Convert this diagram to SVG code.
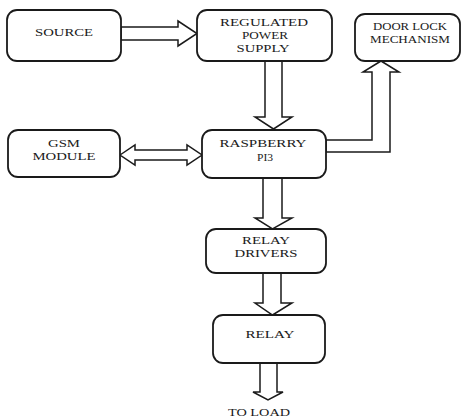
<svg xmlns="http://www.w3.org/2000/svg" width="462" height="418" viewBox="0 0 462 418">
<style>
.box{fill:#fff;stroke:#1a1a1a;stroke-width:1.8}
.arr{fill:#fff;stroke:#1a1a1a;stroke-width:1.5;stroke-linejoin:miter}
text{font-family:"Liberation Serif","Times New Roman",serif;font-size:11px;fill:#1a1a1a;text-anchor:middle}
</style>
<rect width="462" height="418" fill="#fff"/>
<g id="connectors">
<polygon class="arr" points="121,27 178,27 178,21 197,33.5 178,46 178,40 121,40"/>
<polygon class="arr" points="265,61 282,61 282,117 292,117 273.5,129 255,117 265,117"/>
<polygon class="arr" points="120,155 135,145 135,150 187,150 187,145 202,155 187,165 187,160 135,160 135,165"/>
<polygon class="arr" points="326,140 372,140 372,72 363,72 381,61 399,72 390,72 390,152 326,152"/>
<polygon class="arr" points="263,178 282,178 282,218 292,218 272.5,229 255,218 263,218"/>
<polygon class="arr" points="263,273 281,273 281,303 292,303 272.5,315 255,303 263,303"/>
<polygon class="arr" points="260,363 277,363 277,392 283,392 268,400 253,392 260,392"/>
</g>
<g id="source">
<rect class="box" x="7" y="10" width="114" height="51" rx="10"/>
<text x="64" y="36" textLength="58" lengthAdjust="spacingAndGlyphs">SOURCE</text>
</g>
<g id="regulated-power-supply">
<rect class="box" x="197" y="10" width="135" height="51" rx="10"/>
<text x="264" y="26" textLength="88" lengthAdjust="spacingAndGlyphs">REGULATED</text>
<text x="265" y="38.5" textLength="46" lengthAdjust="spacingAndGlyphs">POWER</text>
<text x="263" y="51.5" textLength="53" lengthAdjust="spacingAndGlyphs">SUPPLY</text>
</g>
<g id="door-lock">
<rect class="box" x="355" y="14" width="105" height="47" rx="10"/>
<text x="410" y="30" textLength="74" lengthAdjust="spacingAndGlyphs">DOOR LOCK</text>
<text x="410" y="43" textLength="80" lengthAdjust="spacingAndGlyphs">MECHANISM</text>
</g>
<g id="gsm-module">
<rect class="box" x="8" y="130" width="112" height="47" rx="10"/>
<text x="64" y="147" textLength="32" lengthAdjust="spacingAndGlyphs">GSM</text>
<text x="64" y="159.5" textLength="63" lengthAdjust="spacingAndGlyphs">MODULE</text>
</g>
<g id="raspberry-pi3">
<rect class="box" x="202" y="130" width="124" height="48" rx="10"/>
<text x="263" y="147" textLength="87" lengthAdjust="spacingAndGlyphs">RASPBERRY</text>
<text x="265" y="161" textLength="16" lengthAdjust="spacingAndGlyphs">PI3</text>
</g>
<g id="relay-drivers">
<rect class="box" x="206" y="229" width="120" height="44" rx="10"/>
<text x="266" y="244" textLength="48" lengthAdjust="spacingAndGlyphs">RELAY</text>
<text x="266" y="257" textLength="63" lengthAdjust="spacingAndGlyphs">DRIVERS</text>
</g>
<g id="relay">
<rect class="box" x="213" y="315" width="112" height="48" rx="10"/>
<text x="270" y="338" textLength="49" lengthAdjust="spacingAndGlyphs">RELAY</text>
</g>
<g id="to-load">
<text x="259" y="416" textLength="62" lengthAdjust="spacingAndGlyphs">TO LOAD</text>
</g>
</svg>
